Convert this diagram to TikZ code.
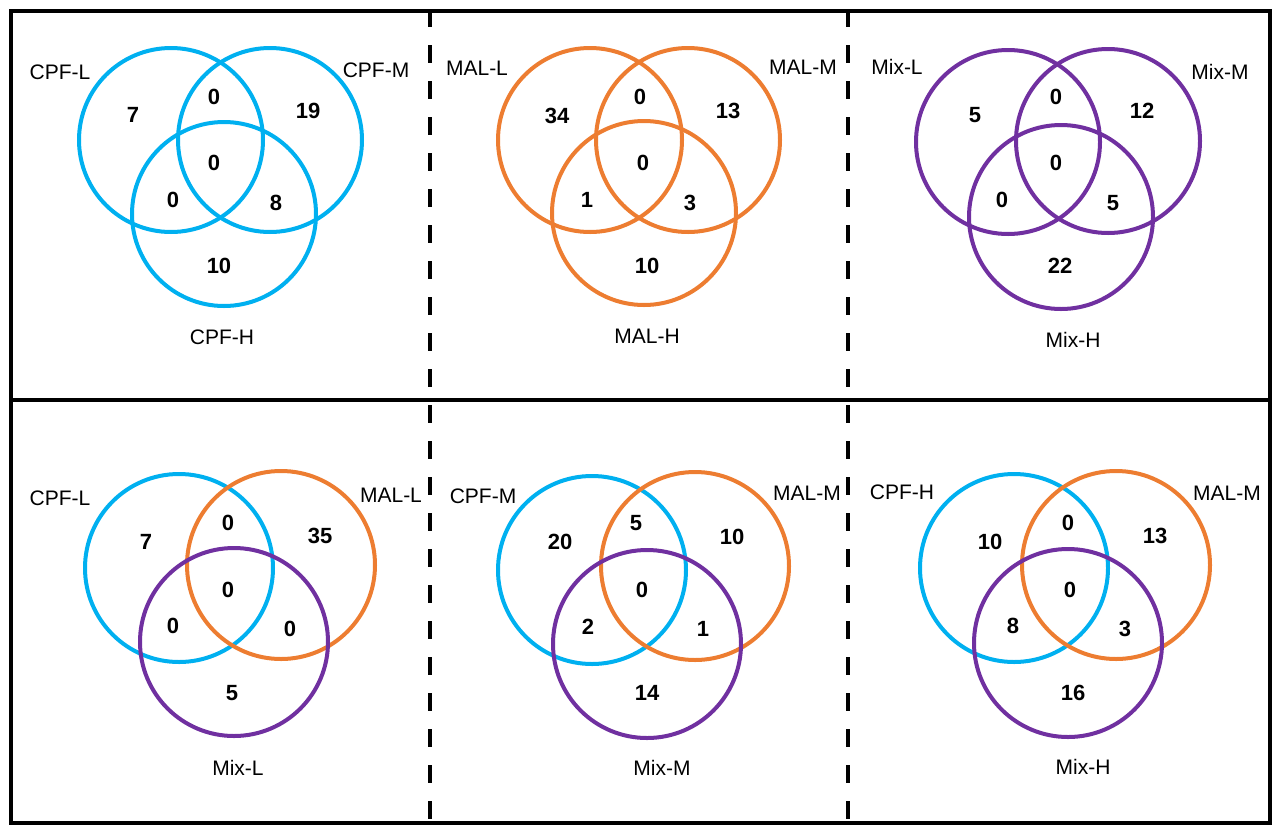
\documentclass[tikz,border=0pt]{standalone}
\usepackage{fontspec}
\setmainfont{Liberation Sans}
\definecolor{cpfblue}{RGB}{0,176,240}
\definecolor{malorange}{RGB}{237,125,49}
\definecolor{mixpurple}{RGB}{112,48,160}

\begin{document}
\begin{tikzpicture}[
    x=1pt, y=-1pt,
    vennset/.style={circle, draw, line width=4pt, minimum size=184pt, inner sep=0pt},
    bigset/.style={vennset, minimum size=188pt},
    setname/.style={font=\fontsize{21}{25}\selectfont, inner sep=0pt},
    num/.style={font=\fontsize{22}{26}\selectfont\bfseries, inner sep=0pt},
    divider/.style={line width=4pt, dash pattern=on 18pt off 18pt},
]
\useasboundingbox (0,0) rectangle (1276,825);

% Frame and dividers
\node[draw, line width=4pt, minimum width=1259pt, minimum height=812pt, inner sep=0pt, anchor=north west] (frame) at (9,9) {};
\coordinate (midL) at (9,400);
\coordinate (midR) at (1268,400);
\coordinate (d1top) at (430,9);
\coordinate (d1bot) at (430,821);
\coordinate (d2top) at (848,9);
\coordinate (d2bot) at (848,821);
\draw[line width=4pt] (midL) -- (midR);
\draw[divider] (d1top) -- (d1bot);
\draw[divider] (d2top) -- (d2bot);

% CPF: L / M / H
\node[vennset, draw=cpfblue] (cpfL) at (171,140) {};
\node[vennset, draw=cpfblue] (cpfM) at (270,140) {};
\node[vennset, draw=cpfblue] (cpfH) at (224,214) {};
\node[setname] (cpfLname) at (60,72) {CPF-L};
\node[setname] (cpfMname) at (376,70) {CPF-M};
\node[setname] (cpfHname) at (222,337) {CPF-H};
\node[num] (cpf1) at (133,115) {7};
\node[num] (cpf2) at (214,97) {0};
\node[num] (cpf3) at (308,111) {19};
\node[num] (cpf4) at (214,163) {0};
\node[num] (cpf5) at (173,200) {0};
\node[num] (cpf6) at (276,203) {8};
\node[num] (cpf7) at (219,266) {10};

% MAL: L / M / H
\node[vennset, draw=malorange] (malL) at (590,140) {};
\node[vennset, draw=malorange] (malM) at (688,140) {};
\node[vennset, draw=malorange] (malH) at (644,213) {};
\node[setname] (malLname) at (477,68) {MAL-L};
\node[setname] (malMname) at (803,67) {MAL-M};
\node[setname] (malHname) at (647,336) {MAL-H};
\node[num] (mal1) at (557,116) {34};
\node[num] (mal2) at (640,97) {0};
\node[num] (mal3) at (728,111) {13};
\node[num] (mal4) at (643,163) {0};
\node[num] (mal5) at (587,200) {1};
\node[num] (mal6) at (690,203) {3};
\node[num] (mal7) at (647,266) {10};

% Mix: L / M / H
\node[vennset, draw=mixpurple] (mixL) at (1008,142) {};
\node[vennset, draw=mixpurple] (mixM) at (1108,141) {};
\node[vennset, draw=mixpurple] (mixH) at (1061,217) {};
\node[setname] (mixLname) at (897,67) {Mix-L};
\node[setname] (mixMname) at (1220,72) {Mix-M};
\node[setname] (mixHname) at (1073,340) {Mix-H};
\node[num] (mix1) at (975,115) {5};
\node[num] (mix2) at (1056,97) {0};
\node[num] (mix3) at (1142,111) {12};
\node[num] (mix4) at (1056,163) {0};
\node[num] (mix5) at (1002,200) {0};
\node[num] (mix6) at (1113,203) {5};
\node[num] (mix7) at (1060,266) {22};

% Low dose
\node[bigset, draw=cpfblue] (lowC) at (179,568) {};
\node[bigset, draw=malorange] (lowM) at (281,565) {};
\node[bigset, draw=mixpurple] (lowX) at (234,642) {};
\node[setname] (lowCname) at (60,498) {CPF-L};
\node[setname] (lowMname) at (391,495) {MAL-L};
\node[setname] (lowXname) at (238,768) {Mix-L};
\node[num] (low1) at (146,542) {7};
\node[num] (low2) at (228,523) {0};
\node[num] (low3) at (320,536) {35};
\node[num] (low4) at (228,590) {0};
\node[num] (low5) at (173,626) {0};
\node[num] (low6) at (290,629) {0};
\node[num] (low7) at (232,693) {5};

% Medium dose
\node[bigset, draw=cpfblue] (medC) at (592,570) {};
\node[bigset, draw=malorange] (medM) at (695,566) {};
\node[bigset, draw=mixpurple] (medX) at (647,644) {};
\node[setname] (medCname) at (483,496) {CPF-M};
\node[setname] (medMname) at (807,493) {MAL-M};
\node[setname] (medXname) at (662,768) {Mix-M};
\node[num] (med1) at (560,542) {20};
\node[num] (med2) at (636,523) {5};
\node[num] (med3) at (732,537) {10};
\node[num] (med4) at (642,590) {0};
\node[num] (med5) at (588,627) {2};
\node[num] (med6) at (703,629) {1};
\node[num] (med7) at (647,693) {14};

% High dose
\node[bigset, draw=cpfblue] (highC) at (1014,568) {};
\node[bigset, draw=malorange] (highM) at (1116,565) {};
\node[bigset, draw=mixpurple] (highX) at (1068,643) {};
\node[setname] (highCname) at (902,492) {CPF-H};
\node[setname] (highMname) at (1227,493) {MAL-M};
\node[setname] (highXname) at (1083,767) {Mix-H};
\node[num] (high1) at (990,542) {10};
\node[num] (high2) at (1068,523) {0};
\node[num] (high3) at (1155,536) {13};
\node[num] (high4) at (1070,590) {0};
\node[num] (high5) at (1013,626) {8};
\node[num] (high6) at (1125,629) {3};
\node[num] (high7) at (1073,693) {16};
\end{tikzpicture}
\end{document}
